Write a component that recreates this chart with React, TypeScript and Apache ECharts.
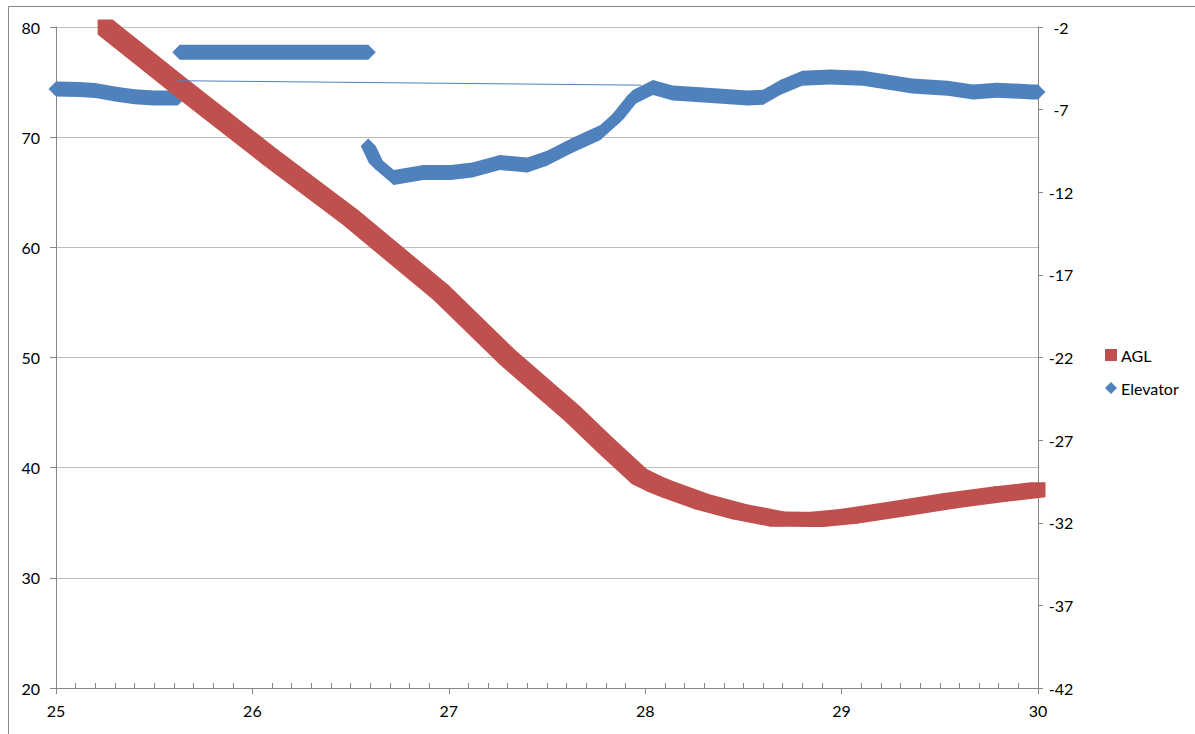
import React, { useEffect, useRef } from "react";
import * as echarts from "echarts";

// Height above ground level (left axis) against time
const aglX = [25.25, 25.63, 26.09, 26.5, 26.96, 27.3, 27.63, 27.8, 27.97, 28.05, 28.12, 28.29, 28.48, 28.67, 28.87, 29.04, 29.3, 29.55, 29.81, 30.0];
const aglY = [80.0, 74.6, 68.2, 62.7, 55.9, 50.0, 44.9, 42.0, 39.2, 38.5, 38.0, 36.9, 36.0, 35.35, 35.3, 35.6, 36.3, 37.0, 37.6, 38.0];

// Elevator deflection (right axis), recorded in three runs
const elevLowX = [25.0, 25.12, 25.2, 25.3, 25.4, 25.5, 25.62];
const elevLowY = [-5.75, -5.78, -5.85, -6.05, -6.22, -6.3, -6.3];

const elevHighX = [25.63, 26.59];
const elevHighY = [-3.53, -3.53];

const elevMainX = [26.59, 26.63, 26.72, 26.87, 27.01, 27.12, 27.26, 27.4, 27.5, 27.63, 27.77, 27.86, 27.94, 28.04, 28.14, 28.28, 28.52, 28.6, 28.69, 28.8, 28.94, 29.11, 29.23, 29.36, 29.54, 29.67, 29.79, 29.97, 30.0];
const elevMainY = [-9.2, -10.2, -11.1, -10.8, -10.8, -10.65, -10.2, -10.35, -9.95, -9.15, -8.4, -7.45, -6.25, -5.66, -6.0, -6.1, -6.3, -6.25, -5.65, -5.1, -5.03, -5.1, -5.33, -5.57, -5.7, -5.93, -5.82, -5.93, -5.93];

// Connector drawn between two elevator samples
const elevLinkX = [25.616, 27.98];
const elevLinkY = [-5.25, -5.52];

const RED = "#C0504D";
const BLUE = "#4F81BD";
const FONT = "Lato";

const SQUARE = [[-7.5, -7.5], [7.5, -7.5], [7.5, 7.5], [-7.5, 7.5]];
const DIAMOND = [[0, -7.5], [7.5, 0], [0, 7.5], [-7.5, 0]];

function segments(xs: number[], ys: number[]) {
  const out: number[][] = [];
  for (let i = 0; i + 1 < xs.length; i++) out.push([xs[i], ys[i], xs[i + 1], ys[i + 1]]);
  return out;
}

function hull(pts: number[][]) {
  const p = pts.slice().sort((a, b) => a[0] - b[0] || a[1] - b[1]);
  const cross = (o: number[], a: number[], b: number[]) =>
    (a[0] - o[0]) * (b[1] - o[1]) - (a[1] - o[1]) * (b[0] - o[0]);
  const lower: number[][] = [];
  for (const q of p) {
    while (lower.length >= 2 && cross(lower[lower.length - 2], lower[lower.length - 1], q) <= 0) lower.pop();
    lower.push(q);
  }
  const upper: number[][] = [];
  for (let i = p.length - 1; i >= 0; i--) {
    const q = p[i];
    while (upper.length >= 2 && cross(upper[upper.length - 2], upper[upper.length - 1], q) <= 0) upper.pop();
    upper.push(q);
  }
  upper.pop();
  lower.pop();
  return lower.concat(upper);
}

// Marker swept along each segment: convex hull of the marker at both ends
function sweptMarker(shape: number[][], color: string) {
  return (_params: any, api: any) => {
    const a = api.coord([api.value(0), api.value(1)]);
    const b = api.coord([api.value(2), api.value(3)]);
    const pts: number[][] = [];
    for (const o of shape) {
      pts.push([a[0] + o[0], a[1] + o[1]]);
      pts.push([b[0] + o[0], b[1] + o[1]]);
    }
    return { type: "polygon", shape: { points: hull(pts) }, style: { fill: color } };
  };
}

export default function App() {
  const ref = useRef<HTMLDivElement>(null);

  useEffect(() => {
    if (!ref.current) return;
    const chart = echarts.init(ref.current, null, { renderer: "svg" });
    const elevData = [
      ...segments(elevLowX, elevLowY),
      ...segments(elevHighX, elevHighY),
      ...segments(elevMainX, elevMainY),
    ];
    const aglData = segments(aglX, aglY);
    const labelStyle = { fontFamily: FONT, fontSize: 16, color: "#000" };

    chart.setOption({
      animation: false,
      backgroundColor: "#fff",
      textStyle: { fontFamily: FONT },
      graphic: [
        {
          type: "rect",
          silent: true,
          shape: { x: 8.5, y: 6.5, width: 1200, height: 900 },
          style: { fill: "none", stroke: "#868686", lineWidth: 1 },
        },
      ],
      grid: { left: 56, right: 157, top: 27, bottom: 46 },
      legend: {
        orient: "vertical",
        left: 1100,
        top: 342,
        itemWidth: 12,
        itemHeight: 12,
        itemGap: 17,
        data: [
          { name: "AGL", icon: "rect" },
          { name: "Elevator", icon: "diamond" },
        ],
        textStyle: { ...labelStyle, padding: [0, 0, 0, -1] },
      },
      xAxis: {
        type: "value",
        min: 25,
        max: 30,
        interval: 1,
        axisLine: { show: true, lineStyle: { color: "#868686", width: 1 } },
        axisTick: { show: true, inside: false, length: 6, lineStyle: { color: "#868686" } },
        minorTick: { show: true, splitNumber: 10, length: -5, lineStyle: { color: "#868686" } },
        splitLine: { show: false },
        axisLabel: { ...labelStyle, margin: 14 },
      },
      yAxis: [
        {
          type: "value",
          min: 20,
          max: 80,
          interval: 10,
          position: "left",
          axisLine: { show: true, lineStyle: { color: "#868686", width: 1 } },
          axisTick: { show: true, inside: false, length: 6, lineStyle: { color: "#868686" } },
          splitLine: { show: true, lineStyle: { color: "#BEBEBE", width: 1 } },
          axisLabel: { ...labelStyle, margin: 16 },
        },
        {
          type: "value",
          min: -42,
          max: -2,
          interval: 5,
          position: "right",
          axisLine: { show: true, lineStyle: { color: "#868686", width: 1 } },
          axisTick: { show: true, inside: false, length: 5, lineStyle: { color: "#868686" } },
          splitLine: { show: false },
          axisLabel: { ...labelStyle, margin: 23, align: "center" },
        },
      ],
      series: [
        {
          name: "Elevator",
          type: "custom",
          xAxisIndex: 0,
          yAxisIndex: 1,
          itemStyle: { color: BLUE },
          encode: { x: [0, 2], y: [1, 3] },
          renderItem: sweptMarker(DIAMOND, BLUE),
          data: elevData,
          z: 2,
        },
        {
          name: "AGL",
          type: "custom",
          xAxisIndex: 0,
          yAxisIndex: 0,
          itemStyle: { color: RED },
          encode: { x: [0, 2], y: [1, 3] },
          renderItem: sweptMarker(SQUARE, RED),
          data: aglData,
          z: 3,
        },
        {
          name: "Elevator link",
          type: "line",
          xAxisIndex: 0,
          yAxisIndex: 1,
          showSymbol: false,
          lineStyle: { color: BLUE, width: 1 },
          itemStyle: { color: BLUE },
          data: elevLinkX.map((x, i) => [x, elevLinkY[i]]),
          z: 4,
        },
      ],
    });
    return () => chart.dispose();
  }, []);

  return (
    <div
      ref={ref}
      style={{ position: "fixed", left: 0, top: 0, width: 1195, height: 734, background: "#fff" }}
    />
  );
}
